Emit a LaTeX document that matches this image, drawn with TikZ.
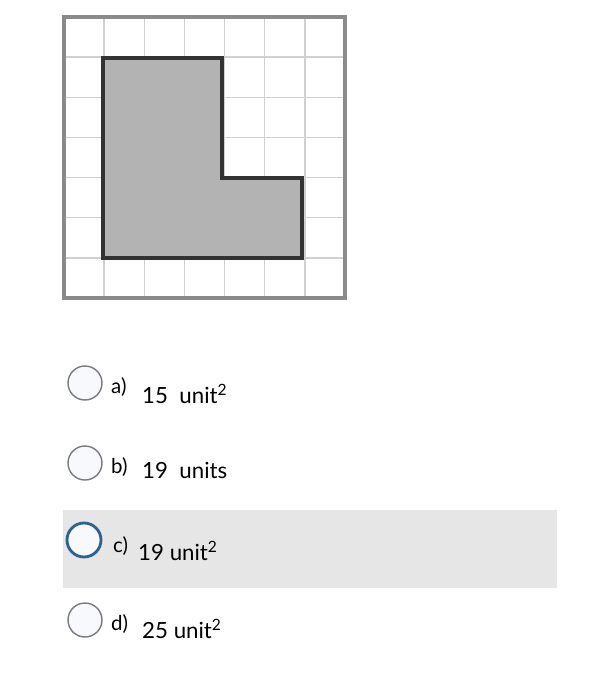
\documentclass[tikz,border=0pt]{standalone}
\usepackage{fontspec}
\setmainfont{Lato}
\usetikzlibrary{positioning}
\definecolor{gridline}{HTML}{D0D0D0}
\definecolor{frameline}{HTML}{8A8A8A}
\definecolor{shapefill}{HTML}{B3B3B3}
\definecolor{shapeline}{HTML}{333333}
\definecolor{ringgray}{HTML}{7A7A7A}
\definecolor{ringblue}{HTML}{2B6390}
\definecolor{ringfill}{HTML}{F8F9FC}
\definecolor{pickbg}{HTML}{E6E6E6}
\tikzset{
  radio/.style={draw=ringgray,fill=ringfill,circle,line width=1.2pt,minimum size=1.02cm,inner sep=0pt},
  letter/.style={anchor=base west,inner sep=0pt,font=\fontsize{17.5}{20}\selectfont},
  answer/.style={anchor=base west,inner sep=0pt,font=\fontsize{19}{22}\selectfont}
}
\begin{document}
\begin{tikzpicture}[x=0.03cm,y=-0.03cm]
    \useasboundingbox (0,0) rectangle (593,700);

    % square grid
    \foreach \k in {1,...,6}{
      \draw [gridline,line width=1.3pt](64+40.14*\k,17)--(64+40.14*\k,298);
      \draw [gridline,line width=1.3pt](64,17+40.14*\k)--(345,17+40.14*\k);
    }
    \draw [frameline,line width=2.8pt](64,17) rectangle (345,298);

    % L shape
    \draw [fill=shapefill,draw=shapeline,line width=2.6pt]
      (103,58)--(222,58)--(222,178)--(302,178)--(302,258)--(103,258)--cycle;

    % options
    \fill [pickbg](63,510) rectangle (557,588);

    \node [radio](ra)at(85,383){};
    \node [letter](la)at(111,393){a)};
    \node [answer](va)at(142,403){15\ \ unit\textsuperscript{2}};

    \node [radio](rb)at(85,463){};
    \node [letter](lb)at(111,473){b)};
    \node [answer](vb)at(142,478){19\ \ units};

    \node [radio,draw=ringblue,line width=2.4pt](rc)at(84,540){};
    \node [letter](lc)at(113,552){c)};
    \node [answer](vc)at(138,560){19 unit\textsuperscript{2}};

    \node [radio](rd)at(85,620){};
    \node [letter](ld)at(111,630){d)};
    \node [answer](vd)at(142,638){25 unit\textsuperscript{2}};
\end{tikzpicture}
\end{document}
